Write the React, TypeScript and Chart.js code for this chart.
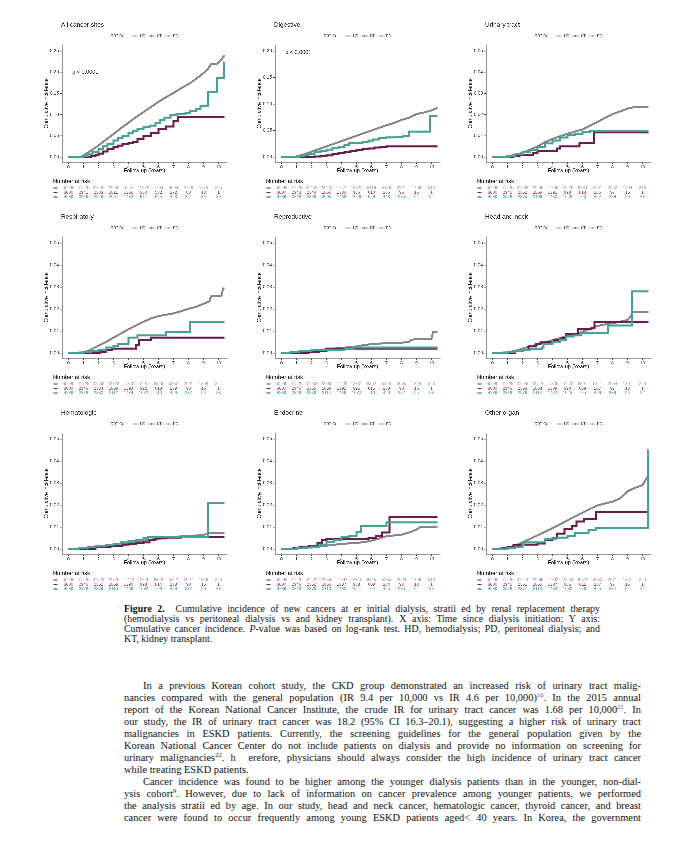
import React, { useEffect, useRef } from "react";
import { Chart, registerables } from "chart.js";
Chart.register(...registerables);

type Pt = [number, number];

const SANS = "'Liberation Sans', Arial, sans-serif";
const SERIF = "'Liberation Serif', 'Times New Roman', serif";

// ---------- shared axis / group data ----------
const xTicks = [0, 1, 2, 3, 4, 5, 6, 7, 8, 9, 10];
const groupNames = ["HD", "KT", "PD"];
const yTicksAll = [0, 0.05, 0.1, 0.15, 0.2, 0.25];
const yTicksDigestive = [0, 0.05, 0.1, 0.15, 0.2];
const yTicksSmall = [0, 0.01, 0.02, 0.03, 0.04, 0.05];

const panelTitles = [
  "All cancer sites", "Digestive", "Urinary tract",
  "Respiratory", "Reproductive", "Head and neck",
  "Hematologic", "Endocrine", "Other organ",
];
const pValueTexts = ["p < 0.0001", "p < 0.0001", "", "", "", "", "", "", ""];
const pValueY = [0.2, 0.197, 0, 0, 0, 0, 0, 0, 0];

// ---------- curves ----------
const allHD: Pt[] = [[0,0],[0.8,0],[1,0.004],[1.5,0.015],[2,0.027],[2.5,0.041],[3,0.054],[3.5,0.068],[4,0.081],[4.5,0.094],[5,0.106],[5.5,0.118],[6,0.13],[6.5,0.141],[7,0.151],[7.5,0.162],[8,0.172],[8.5,0.184],[9,0.198],[9.3,0.208],[9.5,0.219],[9.9,0.22],[10.1,0.226],[10.4,0.24]];
const allKT: Pt[] = [[0,0],[1.2,0],[1.5,0.002],[1.8,0.005],[2,0.008],[2.3,0.013],[2.6,0.018],[3,0.024],[3.3,0.027],[3.6,0.03],[4,0.033],[4.3,0.036],[4.6,0.042],[5,0.05],[5.5,0.057],[6,0.066],[6.5,0.072],[7,0.085],[7.3,0.094],[10.4,0.094]];
const allPD: Pt[] = [[0,0],[0.8,0],[1,0.002],[1.3,0.006],[1.6,0.011],[2,0.019],[2.3,0.025],[2.6,0.031],[3,0.039],[3.3,0.044],[3.6,0.049],[4,0.056],[4.3,0.062],[4.6,0.066],[5,0.07],[5.4,0.074],[5.8,0.08],[6.1,0.087],[6.4,0.093],[6.8,0.099],[7.2,0.102],[7.8,0.104],[8.1,0.109],[8.5,0.114],[8.8,0.121],[9.3,0.154],[9.9,0.186],[10.35,0.223],[10.4,0.223]];

const digHD: Pt[] = [[0,0],[0.8,0],[1,0.001],[1.5,0.005],[2,0.01],[2.5,0.015],[3,0.02],[3.5,0.025],[4,0.03],[4.5,0.035],[5,0.04],[5.5,0.045],[6,0.05],[6.5,0.055],[7,0.06],[7.5,0.064],[8,0.07],[8.5,0.074],[9,0.081],[9.5,0.084],[10,0.088],[10.4,0.093]];
const digKT: Pt[] = [[0,0],[1.8,0],[2.2,0.001],[2.6,0.002],[3,0.003],[3.4,0.005],[3.8,0.007],[4.2,0.009],[4.6,0.011],[5,0.013],[5.4,0.015],[5.8,0.016],[6.2,0.018],[6.6,0.019],[7,0.02],[10.4,0.02]];
const digPD: Pt[] = [[0,0],[0.9,0],[1.2,0.002],[1.5,0.004],[1.8,0.006],[2.2,0.009],[2.6,0.012],[3,0.014],[3.4,0.017],[3.8,0.019],[4.2,0.023],[4.5,0.026],[5,0.027],[5.4,0.029],[5.8,0.031],[6.1,0.033],[6.5,0.036],[7,0.037],[7.6,0.038],[8.1,0.04],[8.5,0.048],[9.9,0.078],[10.4,0.078]];

const uriHD: Pt[] = [[0,0],[0.8,0],[1,0.0004],[1.5,0.001],[2,0.002],[2.5,0.0035],[3,0.005],[3.5,0.007],[4,0.0085],[4.5,0.0098],[5,0.011],[5.5,0.012],[6,0.013],[6.5,0.0148],[7,0.0165],[7.5,0.0185],[8,0.0202],[8.5,0.0215],[9,0.0228],[9.5,0.0236],[10.4,0.0238]];
const uriKT: Pt[] = [[0,0],[1.1,0],[1.4,0.0005],[1.8,0.001],[2.7,0.002],[3,0.0027],[4.3,0.004],[4.5,0.005],[5.8,0.0066],[6.75,0.0116],[10.4,0.0116]];
const uriPD: Pt[] = [[0,0],[0.8,0],[1.1,0.0005],[1.5,0.0012],[2,0.0022],[2.5,0.0033],[3,0.0048],[3.5,0.0064],[4,0.0078],[4.5,0.0092],[5,0.0103],[5.5,0.011],[6,0.0118],[6.5,0.0124],[10.4,0.0124]];

const resHD: Pt[] = [[0,0],[1,0.0003],[1.5,0.0015],[2,0.0033],[2.5,0.005],[3,0.007],[3.5,0.0089],[4,0.0108],[4.5,0.0125],[5,0.0142],[5.5,0.0157],[6,0.0168],[6.5,0.0174],[7,0.018],[7.5,0.019],[8,0.0201],[8.5,0.021],[9,0.0224],[9.4,0.0235],[9.5,0.0257],[10.2,0.026],[10.3,0.0293],[10.4,0.0293]];
const resKT: Pt[] = [[0,0],[2,0],[2.1,0.0005],[2.5,0.0012],[2.9,0.002],[4.5,0.0035],[4.7,0.006],[5.5,0.007],[10.4,0.007]];
const resPD: Pt[] = [[0,0],[1,0.0003],[1.5,0.001],[2,0.0015],[2.5,0.0025],[3,0.0032],[3.3,0.004],[4,0.007],[4.6,0.008],[6.5,0.0095],[8.1,0.014],[10.4,0.014]];

const repHD: Pt[] = [[0,0],[1,0.0003],[2,0.001],[3,0.0017],[4,0.0023],[5,0.003],[5.5,0.0036],[6,0.004],[7,0.0045],[8,0.0047],[8.5,0.005],[8.6,0.0058],[8.9,0.0063],[10,0.0065],[10.1,0.0095],[10.4,0.0095]];
const repKT: Pt[] = [[0,0],[1.5,0],[1.8,0.0005],[2.5,0.001],[3,0.002],[10.4,0.002]];
const repPD: Pt[] = [[0,0],[0.6,0.0003],[1.2,0.0008],[2,0.0012],[3.2,0.0013],[4.2,0.0018],[4.8,0.0025],[10.4,0.0025]];

const hnHD: Pt[] = [[0,0],[1,0.0003],[1.5,0.001],[2,0.002],[2.5,0.003],[3,0.0038],[3.5,0.0048],[4,0.0058],[4.5,0.0068],[5,0.0078],[5.5,0.0085],[6,0.0097],[6.5,0.011],[7,0.0123],[7.5,0.013],[8,0.0135],[8.5,0.0142],[9,0.015],[9.2,0.0165],[9.35,0.0185],[10.4,0.0185]];
const hnKT: Pt[] = [[0,0],[1.2,0],[1.5,0.0008],[2,0.0015],[2.4,0.003],[2.9,0.004],[3.2,0.0048],[3.6,0.005],[4.1,0.0058],[4.6,0.0068],[4.9,0.0085],[5.7,0.011],[6.6,0.0115],[6.8,0.014],[10.4,0.014]];
const hnPD: Pt[] = [[0,0],[1,0.0003],[1.5,0.001],[2,0.0015],[2.5,0.0017],[3.3,0.0025],[3.4,0.004],[4,0.005],[4.5,0.006],[4.9,0.0075],[5.4,0.008],[5.9,0.009],[7.7,0.0125],[9.3,0.028],[10.4,0.028]];

const hemHD: Pt[] = [[0,0],[1,0.0002],[1.5,0.0007],[2,0.0012],[2.5,0.0016],[3,0.002],[3.5,0.0025],[4,0.003],[4.5,0.0034],[5,0.0038],[5.5,0.0043],[6,0.0047],[7,0.0055],[8,0.006],[9,0.0063],[9.3,0.0072],[10.4,0.0072]];
const hemKT: Pt[] = [[0,0],[1.5,0],[1.8,0.0008],[2.8,0.0012],[3.2,0.0015],[3.6,0.002],[4,0.0022],[4.5,0.0026],[5,0.003],[5.4,0.0042],[5.8,0.0048],[6.5,0.0052],[7.5,0.0055],[10.4,0.0055]];
const hemPD: Pt[] = [[0,0],[0.7,0.0004],[1.3,0.0009],[1.8,0.0014],[2.5,0.0018],[3,0.0022],[3.5,0.003],[4,0.0036],[4.5,0.0042],[5,0.005],[5.3,0.0055],[9.3,0.021],[10.4,0.021]];

const endHD: Pt[] = [[0,0],[1,0.0002],[2,0.0008],[3,0.0015],[4,0.0023],[5,0.0028],[5.5,0.0031],[6,0.0038],[6.5,0.0047],[7,0.0058],[8,0.0065],[8.5,0.0075],[9,0.0088],[9.2,0.0098],[10.4,0.0101]];
const endKT: Pt[] = [[0,0],[0.8,0.0003],[1.2,0.0008],[1.8,0.0015],[2.4,0.0028],[2.7,0.004],[3,0.0045],[5.8,0.005],[6.3,0.006],[6.7,0.0075],[7.2,0.0145],[10.4,0.0145]];
const endPD: Pt[] = [[0,0],[1,0.0003],[1.5,0.0007],[2,0.001],[2.5,0.002],[3,0.0033],[3.5,0.0042],[4,0.0055],[4.5,0.006],[5,0.0078],[5.3,0.0104],[7,0.0121],[10.4,0.0121]];

const othHD: Pt[] = [[0,0],[1,0.0005],[1.5,0.0015],[2,0.003],[2.5,0.0046],[3,0.0062],[3.5,0.0078],[4,0.0095],[4.5,0.0112],[5,0.013],[5.5,0.0148],[6,0.0165],[6.5,0.0182],[7,0.0198],[7.5,0.0207],[8,0.0215],[8.5,0.023],[9,0.0262],[9.5,0.0278],[10,0.029],[10.3,0.0325],[10.4,0.0325]];
const othKT: Pt[] = [[0,0],[0.7,0.0005],[1,0.001],[1.4,0.0018],[1.8,0.002],[3,0.0025],[3.5,0.004],[4,0.0048],[4.3,0.007],[4.8,0.009],[5.3,0.0105],[5.6,0.0125],[6.1,0.0138],[6.9,0.0168],[10.4,0.0168]];
const othPD: Pt[] = [[0,0],[1,0.0003],[1.5,0.001],[2,0.002],[2.1,0.003],[3.5,0.0045],[4.2,0.0052],[5,0.0058],[5.5,0.0072],[6.4,0.0085],[6.9,0.0095],[10.35,0.045],[10.4,0.045]];

// ---------- numbers at risk ----------
const allRiskHD = [50995, 41525, 31040, 22930, 16551, 11572, 7764, 4904, 2746, 1178, 295];
const allRiskKT = [3600, 2941, 2333, 1821, 1356, 950, 582, 272, 88, 13, 1];
const allRiskPD = [4236, 3818, 2846, 2067, 1433, 981, 665, 428, 221, 89, 30];
const digRiskHD = [50995, 41525, 31402, 23412, 17071, 12021, 8116, 5178, 2891, 1256, 313];
const digRiskKT = [3600, 2943, 2349, 1856, 1386, 986, 610, 286, 96, 15, 1];
const digRiskPD = [4236, 3818, 2868, 2095, 1468, 1019, 696, 448, 235, 94, 32];
const uriRiskHD = [50995, 41525, 31638, 23695, 17305, 12226, 8283, 5291, 2952, 1294, 318];
const uriRiskKT = [3600, 2945, 2352, 1859, 1391, 993, 613, 286, 97, 15, 1];
const uriRiskPD = [4236, 3818, 2875, 2109, 1480, 1028, 703, 457, 236, 96, 33];
const resRiskHD = [50995, 41525, 31636, 23723, 17372, 12287, 8329, 5332, 2991, 1308, 321];
const resRiskKT = [3600, 2946, 2354, 1859, 1393, 992, 613, 289, 98, 15, 1];
const resRiskPD = [4236, 3818, 2880, 2112, 1484, 1032, 710, 459, 237, 96, 33];
const repRiskHD = [50995, 41525, 31683, 23780, 17429, 12331, 8352, 5348, 3005, 1314, 323];
const repRiskKT = [3600, 2946, 2355, 1859, 1392, 995, 615, 288, 98, 15, 1];
const repRiskPD = [4236, 3818, 2879, 2114, 1486, 1033, 710, 459, 237, 95, 33];
const hnRiskHD = [50995, 41525, 31649, 23714, 17305, 12273, 8307, 5311, 2984, 1307, 320];
const hnRiskKT = [3600, 2946, 2353, 1854, 1388, 990, 609, 287, 97, 15, 1];
const hnRiskPD = [4236, 3818, 2876, 2114, 1482, 1025, 705, 456, 236, 96, 32];
const hemRiskHD = [50995, 41525, 31678, 23775, 17412, 12326, 8348, 5342, 2997, 1318, 323];
const hemRiskKT = [3600, 2946, 2352, 1858, 1390, 993, 614, 288, 98, 15, 1];
const hemRiskPD = [4236, 3818, 2879, 2115, 1486, 1032, 708, 459, 237, 96, 33];
const endRiskHD = [50995, 41525, 31672, 23755, 17392, 12310, 8325, 5335, 2994, 1306, 318];
const endRiskKT = [3600, 2946, 2352, 1855, 1387, 988, 609, 284, 93, 13, 1];
const endRiskPD = [4236, 3818, 2879, 2110, 1480, 1027, 704, 455, 235, 94, 33];
const othRiskHD = [50995, 41525, 31614, 23669, 17302, 12234, 8273, 5280, 2971, 1301, 320];
const othRiskKT = [3600, 2945, 2351, 1855, 1387, 985, 611, 287, 97, 15, 1];
const othRiskPD = [4236, 3818, 2877, 2110, 1483, 1030, 706, 455, 234, 94, 32];

const curves: Pt[][][] = [
  [allHD, allKT, allPD], [digHD, digKT, digPD], [uriHD, uriKT, uriPD],
  [resHD, resKT, resPD], [repHD, repKT, repPD], [hnHD, hnKT, hnPD],
  [hemHD, hemKT, hemPD], [endHD, endKT, endPD], [othHD, othKT, othPD],
];
const risks: number[][][] = [
  [allRiskHD, allRiskKT, allRiskPD], [digRiskHD, digRiskKT, digRiskPD], [uriRiskHD, uriRiskKT, uriRiskPD],
  [resRiskHD, resRiskKT, resRiskPD], [repRiskHD, repRiskKT, repRiskPD], [hnRiskHD, hnRiskKT, hnRiskPD],
  [hemRiskHD, hemRiskKT, hemRiskPD], [endRiskHD, endRiskKT, endRiskPD], [othRiskHD, othRiskKT, othRiskPD],
];
const yTickSets = [yTicksAll, yTicksDigestive, yTicksSmall, yTicksSmall, yTicksSmall, yTicksSmall, yTicksSmall, yTicksSmall, yTicksSmall];

// ---------- styling / layout ----------
const lineColors = ["#878787", "#6b1b4c", "#45a396"];
const riskColors = ["#a99bb5", "#8f2f6d", "#4aa89b"];
const colAxisX = [62, 275, 486];
const rowTopY = [45, 237, 433];
const rowBottomY = [162, 358, 554];
const PPY = 15.0;
const X0_OFF = 6.5;
const LEFT_W = 36;
const TOP_H = 27;
const BOTTOM_H = 40;
const CHART_W = 11 * PPY;
const RIGHT_PAD = 6;

const decorPlugin = {
  id: "decor",
  afterDraw(chart: any, _args: any, opts: any) {
    const { ctx, chartArea: ca, scales } = chart;
    const x = scales.x;
    const y = scales.y;
    ctx.save();
    // title
    ctx.fillStyle = "#222";
    ctx.textBaseline = "middle";
    ctx.textAlign = "left";
    ctx.font = `6.4px ${SANS}`;
    ctx.fillText(opts.title, ca.left - 1, ca.top - 20);

    // legend
    ctx.font = `3.7px ${SANS}`;
    const ly = ca.top - 9;
    const keyW = 7;
    const widths = groupNames.map((g) => ctx.measureText(g).width);
    const headW = ctx.measureText("RRT Group").width;
    let total = headW + 2;
    widths.forEach((w) => (total += keyW + 1.5 + w + 3));
    total -= 3;
    let lx = (ca.left + ca.right) / 2 - total / 2;
    ctx.fillStyle = "#333";
    ctx.fillText("RRT Group", lx, ly);
    lx += headW + 2;
    groupNames.forEach((g, i) => {
      ctx.strokeStyle = lineColors[i];
      ctx.lineWidth = 0.9;
      ctx.beginPath();
      ctx.moveTo(lx, ly);
      ctx.lineTo(lx + keyW, ly);
      ctx.moveTo(lx + keyW / 2, ly - 1);
      ctx.lineTo(lx + keyW / 2, ly + 1);
      ctx.stroke();
      lx += keyW + 1.5;
      ctx.fillStyle = "#333";
      ctx.fillText(g, lx, ly);
      lx += widths[i] + 3;
    });

    // y axis title
    ctx.save();
    ctx.font = `5.3px ${SANS}`;
    ctx.fillStyle = "#222";
    ctx.translate(ca.left - 15.5, (ca.top + ca.bottom) / 2);
    ctx.rotate(-Math.PI / 2);
    ctx.textAlign = "center";
    ctx.fillText("Cumulative incidence", 0, 0);
    ctx.restore();

    // x axis title
    ctx.font = `5.3px ${SANS}`;
    ctx.fillStyle = "#222";
    ctx.textAlign = "center";
    ctx.fillText("Follow-up (Years)", (ca.left + ca.right) / 2, ca.bottom + 9);

    // p value
    if (opts.pText) {
      ctx.font = `5.5px ${SANS}`;
      ctx.textAlign = "left";
      ctx.fillText(opts.pText, x.getPixelForValue(0.25), y.getPixelForValue(opts.pY));
    }

    // number at risk
    ctx.font = `5.7px ${SANS}`;
    ctx.textAlign = "left";
    ctx.fillStyle = "#222";
    ctx.fillText("Number at risk", ca.left - 9, ca.bottom + 19.5);
    const rowY = [ca.bottom + 26, ca.bottom + 30.5, ca.bottom + 35];
    opts.risk.forEach((row: number[], gi: number) => {
      ctx.strokeStyle = lineColors[gi];
      ctx.lineWidth = 1.2;
      ctx.beginPath();
      ctx.moveTo(ca.left - 8.5, rowY[gi]);
      ctx.lineTo(ca.left - 4.5, rowY[gi]);
      ctx.stroke();
      ctx.font = `4.2px ${SANS}`;
      ctx.fillStyle = riskColors[gi];
      ctx.textAlign = "center";
      row.forEach((v, i) => {
        ctx.fillText(String(v), x.getPixelForValue(xTicks[i]), rowY[gi]);
      });
    });
    ctx.restore();
  },
};

function Panel({ idx }: { idx: number }) {
  const ref = useRef<HTMLCanvasElement | null>(null);
  const col = idx % 3;
  const row = Math.floor(idx / 3);
  const ax = colAxisX[col];
  const top = rowTopY[row];
  const bottom = rowBottomY[row];
  const plotH = bottom - top;
  const w = LEFT_W + CHART_W + RIGHT_PAD;
  const h = TOP_H + plotH + BOTTOM_H;
  const left = ax - LEFT_W;
  const canvasTop = top - TOP_H;

  useEffect(() => {
    const yTicks = yTickSets[idx];
    const T = yTicks[yTicks.length - 1];
    const k = (plotH - 11) / T;
    const ymin = -5 / k;
    const ymax = T + 6 / k;
    const xmin = -X0_OFF / PPY;
    const xmax = xmin + CHART_W / PPY;
    const order = [3, 2, 1];
    const chart = new Chart(ref.current as HTMLCanvasElement, {
      type: "line",
      data: {
        datasets: curves[idx].map((pts, gi) => ({
          label: groupNames[gi],
          data: pts.map(([px, py]) => ({ x: px, y: py })),
          borderColor: lineColors[gi],
          backgroundColor: lineColors[gi],
          borderWidth: 2,
          pointRadius: 0,
          stepped: gi === 0 ? false : "before",
          tension: 0,
          fill: false,
          order: order[gi],
        })),
      },
      options: {
        animation: false,
        responsive: false,
        maintainAspectRatio: false,
        devicePixelRatio: 3,
        events: [],
        layout: { padding: { left: 0, top: TOP_H, right: RIGHT_PAD, bottom: BOTTOM_H - 6 } },
        plugins: {
          legend: { display: false },
          tooltip: { enabled: false },
          title: { display: false },
          decor: {
            title: panelTitles[idx],
            pText: pValueTexts[idx],
            pY: pValueY[idx],
            risk: risks[idx],
          },
        } as any,
        scales: {
          x: {
            type: "linear",
            min: xmin,
            max: xmax,
            afterBuildTicks: (s: any) => {
              s.ticks = xTicks.map((v) => ({ value: v }));
            },
            afterFit: (s: any) => {
              s.height = 6;
            },
            ticks: {
              font: { size: 4.7, family: SANS },
              color: "#333",
              padding: 0.5,
              maxRotation: 0,
              autoSkip: false,
              callback: (v: any) => String(v),
            },
            grid: { display: true, drawOnChartArea: false, tickLength: 2, color: "#333", lineWidth: 0.6 },
            border: { display: true, color: "#333", width: 0.7 },
          },
          y: {
            type: "linear",
            min: ymin,
            max: ymax,
            afterBuildTicks: (s: any) => {
              s.ticks = yTicks.map((v) => ({ value: v }));
            },
            afterFit: (s: any) => {
              s.width = LEFT_W;
            },
            ticks: {
              font: { size: 4.7, family: SANS },
              color: "#333",
              padding: 1,
              callback: (v: any) => Number(v).toFixed(2),
            },
            grid: { display: true, drawOnChartArea: false, tickLength: 2, color: "#333", lineWidth: 0.6 },
            border: { display: true, color: "#333", width: 0.7 },
          },
        },
      },
      plugins: [decorPlugin],
    } as any);
    return () => chart.destroy();
  }, [idx]);

  return (
    <canvas
      ref={ref}
      width={w}
      height={h}
      style={{ position: "absolute", left, top: canvasTop, width: w, height: h }}
    />
  );
}

// ---------- text ----------
const captionLines: React.ReactNode[] = [
  <><b>Figure 2.</b>&nbsp; Cumulative incidence of new cancers at er initial dialysis, stratii ed by renal replacement therapy</>,
  <>(hemodialysis vs peritoneal dialysis vs and kidney transplant). X axis: Time since dialysis initiation; Y axis:</>,
  <>Cumulative cancer incidence. <i>P</i>-value was based on log-rank test. HD, hemodialysis; PD, peritoneal dialysis; and</>,
  <>KT, kidney transplant.</>,
];

const Sup = ({ children, blue }: { children: React.ReactNode; blue?: boolean }) => (
  <span style={{ fontSize: 6.5, position: "relative", top: -4, lineHeight: 0, color: blue ? "#3b5aa0" : "#222" }}>{children}</span>
);

const bodyLines: { node: React.ReactNode; indent?: boolean; last?: boolean }[] = [
  { node: <>In a previous Korean cohort study, the CKD group demonstrated an increased risk of urinary tract malig-</>, indent: true },
  { node: <>nancies compared with the general population (IR 9.4 per 10,000 vs IR 4.6 per 10,000)<Sup blue>10</Sup>. In the 2015 annual</> },
  { node: <>report of the Korean National Cancer Institute, the crude IR for urinary tract cancer was 1.68 per 10,000<Sup blue>21</Sup>. In</> },
  { node: <>our study, the IR of urinary tract cancer was 18.2 (95% CI 16.3–20.1), suggesting a higher risk of urinary tract</> },
  { node: <>malignancies in ESKD patients. Currently, the screening guidelines for the general population given by the</> },
  { node: <>Korean National Cancer Center do not include patients on dialysis and provide no information on screening for</> },
  { node: <>urinary malignancies<Sup>22</Sup>. h&nbsp; erefore, physicians should always consider the high incidence of urinary tract cancer</> },
  { node: <>while treating ESKD patients.</>, last: true },
  { node: <>Cancer incidence was found to be higher among the younger dialysis patients than in the younger, non-dial-</>, indent: true },
  { node: <>ysis cohort<Sup>9</Sup>. However, due to lack of information on cancer prevalence among younger patients, we performed</> },
  { node: <>the analysis stratii ed by age. In our study, head and neck cancer, hematologic cancer, thyroid cancer, and breast</> },
  { node: <>cancer were found to occur frequently among young ESKD patients aged&lt; 40 years. In Korea, the government</> },
];

const CAP_LEFT = 124;
const CAP_W = 476;
const CAP_TOP = 604;
const CAP_LH = 10;
const BODY_LEFT = 124;
const BODY_W = 517;
const BODY_TOP = 680;
const BODY_LH = 12;
const INDENT = 19;

export default function App() {
  return (
    <div style={{ position: "absolute", left: 0, top: 0, width: 680, height: 843, overflow: "hidden", background: "#fff" }}>
      {panelTitles.map((_, i) => (
        <Panel key={i} idx={i} />
      ))}
      {captionLines.map((n, i) => (
        <div
          key={"c" + i}
          style={{
            position: "absolute",
            left: CAP_LEFT,
            top: CAP_TOP + i * CAP_LH,
            width: CAP_W,
            fontFamily: SERIF,
            fontSize: 9.9,
            lineHeight: CAP_LH + "px",
            whiteSpace: "nowrap",
            textAlign: "justify",
            textAlignLast: i === captionLines.length - 1 ? "left" : "justify",
            color: "#111",
          }}
        >
          {n}
        </div>
      ))}
      {bodyLines.map((l, i) => (
        <div
          key={"b" + i}
          style={{
            position: "absolute",
            left: BODY_LEFT + (l.indent ? INDENT : 0),
            top: BODY_TOP + i * BODY_LH,
            width: BODY_W - (l.indent ? INDENT : 0),
            fontFamily: SERIF,
            fontSize: 10.4,
            lineHeight: BODY_LH + "px",
            whiteSpace: "nowrap",
            textAlign: "justify",
            textAlignLast: l.last ? "left" : "justify",
            color: "#111",
          }}
        >
          {l.node}
        </div>
      ))}
    </div>
  );
}
